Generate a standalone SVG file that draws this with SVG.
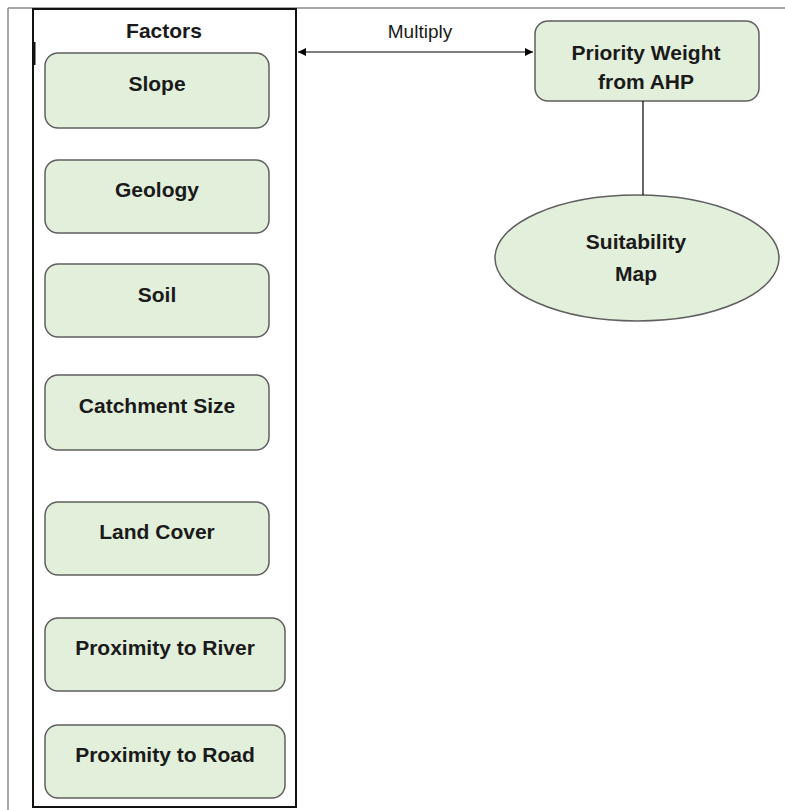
<svg xmlns="http://www.w3.org/2000/svg" width="785" height="810" viewBox="0 0 785 810">
<style>
.box{fill:#e2efda;stroke:#5f5f5f;stroke-width:1.5}
.lbl{font-family:"Liberation Sans",Arial,sans-serif;font-weight:bold;font-size:21px;fill:#1a1a1a;text-anchor:middle}
.reg{font-family:"Liberation Sans",Arial,sans-serif;font-size:19px;fill:#1a1a1a;text-anchor:middle}
.frame{stroke:#8a8a8a;stroke-width:1.5;fill:none}
.conn{stroke:#000;stroke-width:1.2;fill:none}
</style>
<defs>
<marker id="ah" viewBox="0 0 10 10" refX="10" refY="5" markerWidth="8" markerHeight="8" markerUnits="userSpaceOnUse" orient="auto-start-reverse">
<path d="M0,0 L10,5 L0,10 z" fill="#000"/>
</marker>
</defs>
<rect width="785" height="810" fill="#fff"/>
<g id="frame">
<line class="frame" x1="8" y1="8" x2="785" y2="8"/>
<line class="frame" x1="8" y1="8" x2="8" y2="810"/>
</g>
<g id="factors">
<rect x="33" y="9" width="263" height="798" fill="none" stroke="#111" stroke-width="2"/>
<line x1="34" y1="42" x2="34" y2="65" stroke="#111" stroke-width="3"/>
<text class="lbl" x="164" y="38" font-size="26">Factors</text>
</g>
<g id="slope"><rect class="box" x="45" y="53" width="224" height="75" rx="13"/><text class="lbl" x="157" y="91">Slope</text></g>
<g id="geology"><rect class="box" x="45" y="160" width="224" height="73" rx="13"/><text class="lbl" x="157" y="197">Geology</text></g>
<g id="soil"><rect class="box" x="45" y="264" width="224" height="73" rx="13"/><text class="lbl" x="157" y="302">Soil</text></g>
<g id="catchment"><rect class="box" x="45" y="375" width="224" height="75" rx="13"/><text class="lbl" x="157" y="413">Catchment Size</text></g>
<g id="landcover"><rect class="box" x="45" y="502" width="224" height="73" rx="13"/><text class="lbl" x="157" y="539">Land Cover</text></g>
<g id="river"><rect class="box" x="45" y="618" width="240" height="73" rx="13"/><text class="lbl" x="165" y="655">Proximity to River</text></g>
<g id="road"><rect class="box" x="45" y="725" width="240" height="73" rx="13"/><text class="lbl" x="165" y="762">Proximity to Road</text></g>
<g id="priority"><rect class="box" x="535" y="21" width="224" height="80" rx="13"/><text class="lbl" x="646" y="60" font-size="22">Priority Weight</text><text class="lbl" x="646" y="89" font-size="22">from AHP</text></g>
<g id="suitability"><ellipse class="box" cx="637" cy="258" rx="142" ry="63"/><text class="lbl" x="636" y="249" font-size="23">Suitability</text><text class="lbl" x="636" y="281" font-size="23">Map</text></g>
<g id="connectors">
<line class="conn" x1="298" y1="52" x2="533" y2="52" marker-start="url(#ah)" marker-end="url(#ah)"/>
<text class="reg" x="420" y="38">Multiply</text>
<line class="conn" x1="643" y1="101" x2="643" y2="195"/>
</g>
</svg>
